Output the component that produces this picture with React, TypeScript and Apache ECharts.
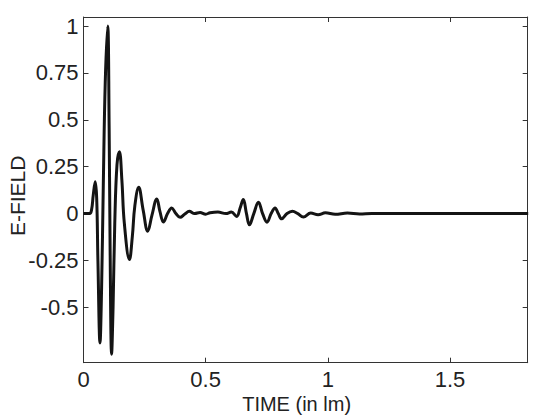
import React, { useEffect, useRef } from "react";
import * as echarts from "echarts";

const times = [
  0, 0.025, 0.033, 0.04, 0.048, 0.054, 0.059, 0.0675, 0.074, 0.081, 0.089, 0.099,
  0.105, 0.109, 0.115, 0.121, 0.128, 0.137, 0.147, 0.157, 0.167, 0.188, 0.2, 0.21,
  0.226, 0.244, 0.263, 0.28, 0.3, 0.313, 0.327, 0.344, 0.361, 0.378, 0.395, 0.415,
  0.433, 0.455, 0.477, 0.5, 0.518, 0.55, 0.583, 0.605, 0.627, 0.641, 0.654, 0.667,
  0.679, 0.697, 0.716, 0.733, 0.751, 0.768, 0.784, 0.797, 0.811, 0.833, 0.855, 0.877,
  0.9, 0.93, 0.96, 0.99, 1.03, 1.08, 1.13, 1.18, 1.25, 1.82,
];
const efield = [
  0, 0, 0.02, 0.1, 0.17, 0.08, -0.25, -0.69, -0.4, 0.15, 0.7, 1.0,
  0.45, -0.2, -0.75, -0.5, -0.05, 0.26, 0.33, 0.18, -0.05, -0.245, -0.12, 0.04,
  0.14, 0.02, -0.094, -0.01, 0.078, 0.01, -0.045, 0.0, 0.03, 0.0, -0.02, -0.002,
  0.012, 0.0, 0.006, -0.003, 0.004, 0.008, 0.0, 0.008, -0.015, 0.03, 0.075, 0.0,
  -0.06, 0.0, 0.06, 0.0, -0.046, 0.0, 0.03, 0.0, -0.028, 0.0, 0.012, 0.0,
  -0.018, 0.003, -0.006, 0.004, -0.004, 0.003, -0.002, 0.001, 0, 0,
];
const xTicks = [0, 0.5, 1, 1.5];
const yTicks = [-0.5, -0.25, 0, 0.25, 0.5, 0.75, 1];

const X_MIN = 0;
const X_MAX = 1.818;
const Y_MIN = -0.795;
const Y_MAX = 1.048;

export default function App() {
  const ref = useRef<HTMLDivElement>(null);
  useEffect(() => {
    if (!ref.current) return;
    const chart = echarts.init(ref.current, undefined, { renderer: "svg" });
    const axisColor = "#333";
    const font = "Liberation Sans, Arial, Helvetica, sans-serif";
    const baseX = {
      type: "value" as const,
      min: X_MIN,
      max: X_MAX,
      splitLine: { show: false },
      axisLine: { show: true, onZero: false, lineStyle: { color: axisColor, width: 1 } },
      axisTick: { show: true, inside: true, length: 5, customValues: xTicks, lineStyle: { color: axisColor } },
    };
    const baseY = {
      type: "value" as const,
      min: Y_MIN,
      max: Y_MAX,
      splitLine: { show: false },
      axisLine: { show: true, onZero: false, lineStyle: { color: axisColor, width: 1 } },
      axisTick: { show: true, inside: true, length: 5, customValues: yTicks, lineStyle: { color: axisColor } },
    };
    chart.setOption({
      animation: false,
      backgroundColor: "#fff",
      grid: {
        left: 83.5,
        right: 8.3,
        top: 17,
        bottom: 53.3,
        containLabel: false,
        outerBoundsMode: "none",
      },
      xAxis: [
        {
          ...baseX,
          position: "bottom",
          axisLabel: {
            show: true,
            customValues: xTicks,
            color: "#222",
            fontSize: 22,
            fontFamily: font,
            margin: 6,
          },
          name: "TIME (in lm)",
          nameLocation: "middle",
          nameGap: 31,
          nameMoveOverlap: false,
          nameTextStyle: { color: "#222", fontSize: 20, fontFamily: font, padding: [0, 18, 0, 0] },
        },
        {
          ...baseX,
          position: "top",
          axisLabel: { show: false },
        },
      ],
      yAxis: [
        {
          ...baseY,
          position: "left",
          axisLabel: {
            show: true,
            customValues: yTicks,
            color: "#222",
            fontSize: 22,
            fontFamily: font,
            margin: 5,
          },
          name: "E-FIELD",
          nameLocation: "middle",
          nameGap: 56,
          nameMoveOverlap: false,
          nameTextStyle: { color: "#222", fontSize: 21, fontFamily: font, padding: [0, 12, 0, 0] },
        },
        {
          ...baseY,
          position: "right",
          axisLabel: { show: false },
        },
      ],
      series: [
        {
          type: "line",
          xAxisIndex: 0,
          yAxisIndex: 0,
          data: times.map((t, i) => [t, efield[i]]),
          showSymbol: false,
          smooth: 0.4,
          lineStyle: { color: "#141414", width: 3 },
        },
      ],
    });
    return () => chart.dispose();
  }, []);
  return (
    <div
      ref={ref}
      style={{ position: "fixed", left: 0, top: 0, width: 536, height: 416 }}
    />
  );
}
